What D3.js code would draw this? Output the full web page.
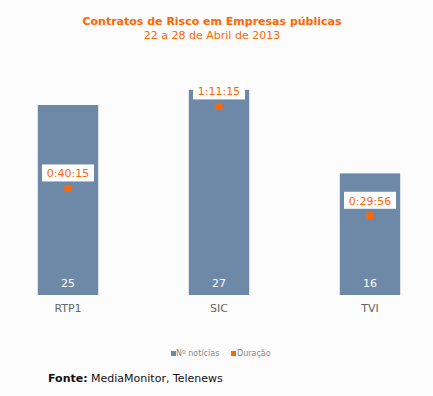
<!DOCTYPE html>
<html lang="pt">
<head>
<meta charset="UTF-8">
<title>Contratos de Risco</title>
<script src="https://d3js.org/d3.v7.min.js"></script>
<style>
  body { margin: 0; background: #fcfcfc; }
  svg { display: block; font-family: "DejaVu Sans", Verdana, sans-serif; }
</style>
</head>
<body>
<svg width="433" height="396"></svg>
<script>
// data
var canais = ["RTP1", "SIC", "TVI"];
var noticias = [25, 27, 16];
var duracao = ["0:40:15", "1:11:15", "0:29:56"];
var legenda = ["Nº notícias", "Duração"];

var azul = "#6d89a7", laranja = "#ff6600";

function segundos(t) {
    var p = t.split(":").map(Number);
    return p[0] * 3600 + p[1] * 60 + p[2];
}

var svg = d3.select("svg");

svg.append("text").attr("x", 212).attr("y", 25).attr("text-anchor", "middle")
    .attr("fill", laranja).attr("font-weight", "bold").attr("font-size", 11)
    .text("Contratos de Risco em Empresas públicas");
svg.append("text").attr("x", 212).attr("y", 39).attr("text-anchor", "middle")
    .attr("fill", laranja).attr("font-size", 11)
    .text("22 a 28 de Abril de 2013");

var x = d3.scaleBand().domain(canais).range([-7.5, 445.5])
    .paddingInner(0.6).paddingOuter(0.3);
var y = d3.scaleLinear().domain([0, 40]).range([295, -9]);
var y2 = d3.scaleLinear().domain([0, 6800]).range([295, -5]);

svg.selectAll("rect.bar").data(canais).enter().append("rect")
    .attr("class", "bar")
    .attr("x", d => x(d))
    .attr("width", x.bandwidth())
    .attr("y", (d, i) => y(noticias[i]))
    .attr("height", (d, i) => y(0) - y(noticias[i]))
    .attr("fill", azul);

svg.selectAll("text.val").data(canais).enter().append("text")
    .attr("class", "val")
    .attr("x", d => x(d) + x.bandwidth() / 2)
    .attr("y", 287).attr("text-anchor", "middle")
    .attr("fill", "#fff").attr("font-size", 11)
    .text((d, i) => noticias[i]);

var xAxis = svg.append("g").attr("transform", "translate(0,295)")
    .call(d3.axisBottom(x).tickSize(0).tickPadding(9));
xAxis.select(".domain").remove();
xAxis.selectAll("text").attr("fill", "#666").attr("font-size", 11)
    .attr("font-family", "DejaVu Sans, sans-serif");

var pts = svg.selectAll("g.dur").data(canais).enter().append("g")
    .attr("class", "dur")
    .attr("transform", (d, i) => "translate(" + (x(d) + x.bandwidth() / 2) + "," + y2(segundos(duracao[i])) + ")");
pts.append("rect").attr("x", -3.5).attr("y", -3.5).attr("width", 7).attr("height", 7)
    .attr("fill", laranja);
pts.append("rect").attr("x", -26).attr("y", -24).attr("width", 52).attr("height", 17)
    .attr("fill", "#fff");
pts.append("text").attr("y", -11).attr("text-anchor", "middle")
    .attr("fill", laranja).attr("font-size", 11)
    .text((d, i) => duracao[i]);

// legend
var lg = svg.append("g").attr("font-size", 8).attr("fill", "#888");
lg.append("rect").attr("x", 171).attr("y", 351).attr("width", 5).attr("height", 5).attr("fill", azul);
lg.append("text").attr("x", 176).attr("y", 356).text(legenda[0]);
lg.append("rect").attr("x", 231).attr("y", 351).attr("width", 5).attr("height", 5).attr("fill", laranja);
lg.append("text").attr("x", 237).attr("y", 356).text(legenda[1]);

var fonte = svg.append("text").attr("x", 48).attr("y", 382).attr("font-size", 11).attr("fill", "#111");
fonte.append("tspan").attr("font-weight", "bold").text("Fonte:");
fonte.append("tspan").text(" MediaMonitor, Telenews");
</script>
</body>
</html>
